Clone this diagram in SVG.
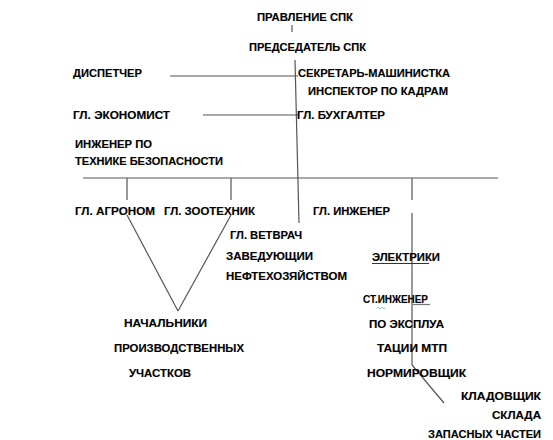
<svg xmlns="http://www.w3.org/2000/svg" width="553" height="440" viewBox="0 0 553 440">
<style>
text{font-family:"Liberation Sans",Arial,sans-serif;font-weight:bold;font-size:11.5px;fill:#000;stroke:#000;stroke-width:0.15;}
.c line,.c path{stroke:#555;stroke-width:1.2;fill:none;}
</style>
<rect width="553" height="440" fill="#fff"/>
<g id="connectors" class="c">
<line x1="292" y1="25" x2="292" y2="32"/>
<line x1="295" y1="60" x2="299" y2="223"/>
<line x1="170" y1="76" x2="298" y2="76"/>
<line x1="203" y1="115" x2="298" y2="115"/>
<line x1="83" y1="178" x2="498" y2="178"/>
<line x1="127" y1="178" x2="127" y2="200"/>
<line x1="231" y1="178" x2="231" y2="200"/>
<line x1="412" y1="178" x2="412" y2="200"/>
<line x1="412" y1="213" x2="412" y2="365"/>
<line x1="412" y1="365" x2="444" y2="403"/>
<line x1="127" y1="215" x2="178" y2="311"/>
<line x1="231" y1="215" x2="178" y2="311"/>
<line x1="372" y1="263.5" x2="429" y2="263.5" style="stroke:#333"/>
<line x1="413" y1="304.5" x2="430" y2="304.5" style="stroke:#777"/>
<path d="M377 308 q1 -1.5 2 0 t2 0 t2 0 t2 0" style="stroke:#6c6;stroke-width:0.8"/>
</g>
<g id="n-pravlenie"><text x="257" y="21" textLength="96" lengthAdjust="spacingAndGlyphs">ПРАВЛЕНИЕ СПК</text></g>
<g id="n-predsedatel"><text x="249" y="51" textLength="117" lengthAdjust="spacingAndGlyphs">ПРЕДСЕДАТЕЛЬ СПК</text></g>
<g id="n-dispetcher"><text x="73" y="77" textLength="69" lengthAdjust="spacingAndGlyphs">ДИСПЕТЧЕР</text></g>
<g id="n-sekretar"><text x="298" y="77" textLength="152" lengthAdjust="spacingAndGlyphs">СЕКРЕТАРЬ-МАШИНИСТКА</text></g>
<g id="n-inspektor"><text x="308" y="95" textLength="140" lengthAdjust="spacingAndGlyphs">ИНСПЕКТОР ПО КАДРАМ</text></g>
<g id="n-ekonomist"><text x="73" y="119" textLength="97" lengthAdjust="spacingAndGlyphs">ГЛ. ЭКОНОМИСТ</text></g>
<g id="n-buhgalter"><text x="297" y="119" textLength="88" lengthAdjust="spacingAndGlyphs">ГЛ. БУХГАЛТЕР</text></g>
<g id="n-tb"><text x="75" y="148" textLength="77" lengthAdjust="spacingAndGlyphs">ИНЖЕНЕР ПО</text><text x="75" y="165" textLength="148" lengthAdjust="spacingAndGlyphs">ТЕХНИКЕ БЕЗОПАСНОСТИ</text></g>
<g id="n-agronom"><text x="75" y="215" textLength="80" lengthAdjust="spacingAndGlyphs">ГЛ. АГРОНОМ</text></g>
<g id="n-zootehnik"><text x="164" y="215" textLength="91" lengthAdjust="spacingAndGlyphs">ГЛ. ЗООТЕХНИК</text></g>
<g id="n-inzhener"><text x="313" y="215" textLength="77" lengthAdjust="spacingAndGlyphs">ГЛ. ИНЖЕНЕР</text></g>
<g id="n-vetvrach"><text x="230" y="239" textLength="72" lengthAdjust="spacingAndGlyphs">ГЛ. ВЕТВРАЧ</text></g>
<g id="n-neft"><text x="226" y="260" textLength="87" lengthAdjust="spacingAndGlyphs">ЗАВЕДУЮЩИИ</text><text x="226" y="280" textLength="121" lengthAdjust="spacingAndGlyphs">НЕФТЕХОЗЯЙСТВОМ</text></g>
<g id="n-nachalniki"><text x="124" y="327" textLength="83" lengthAdjust="spacingAndGlyphs">НАЧАЛЬНИКИ</text><text x="114" y="352" textLength="130" lengthAdjust="spacingAndGlyphs">ПРОИЗВОДСТВЕННЫХ</text><text x="129" y="377" textLength="62" lengthAdjust="spacingAndGlyphs">УЧАСТКОВ</text></g>
<g id="n-elektriki"><text x="372" y="261" textLength="68" lengthAdjust="spacingAndGlyphs">ЭЛЕКТРИКИ</text></g>
<g id="n-st-inzhener"><text x="363" y="303" textLength="65" lengthAdjust="spacingAndGlyphs">СТ.ИНЖЕНЕР</text><text x="369" y="328" textLength="75" lengthAdjust="spacingAndGlyphs">ПО ЭКСПЛУА</text><text x="377" y="352" textLength="70" lengthAdjust="spacingAndGlyphs">ТАЦИИ МТП</text></g>
<g id="n-normirovshik"><text x="367" y="377" textLength="99" lengthAdjust="spacingAndGlyphs">НОРМИРОВЩИК</text></g>
<g id="n-kladovshik"><text x="461" y="400" textLength="80" lengthAdjust="spacingAndGlyphs">КЛАДОВЩИК</text><text x="492" y="419" textLength="49" lengthAdjust="spacingAndGlyphs">СКЛАДА</text><text x="428" y="438" textLength="113" lengthAdjust="spacingAndGlyphs">ЗАПАСНЫХ ЧАСТЕИ</text></g>
</svg>
